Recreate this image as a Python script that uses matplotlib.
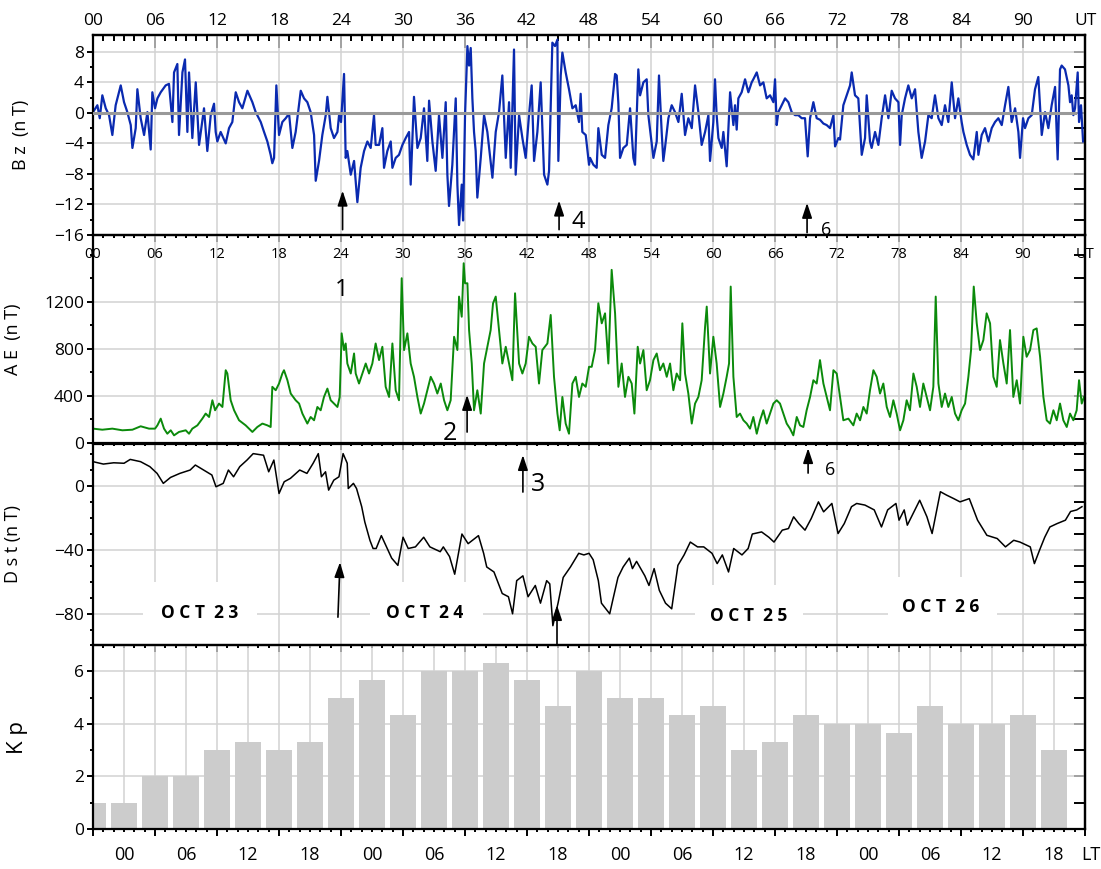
import numpy as np
import matplotlib
matplotlib.use('Agg')
import matplotlib.pyplot as plt
import matplotlib.transforms as mtransforms
from matplotlib.patches import Rectangle

plt.rcParams['font.family'] = ['Open Sans', 'DejaVu Sans']

# ---------------------------------------------------------------- data
# IMF Bz (nT), hours UT counted from 00 UT on Oct 23
bz_hours = [0.0, 0.42, 0.65, 0.9, 1.23, 1.55, 1.87, 2.19, 2.68, 3.0, 3.32, 3.65, 3.81, 4.13, 4.29, 4.61, 4.94, 5.26, 5.58, 5.74, 6.0,
            6.23, 6.55, 7.03, 7.35, 7.68, 7.84, 8.16, 8.32, 8.65, 8.9, 9.13, 9.29, 9.61, 9.94, 10.26, 10.74, 11.06, 11.39, 11.71, 11.87, 12.03,
            12.35, 12.84, 13.16, 13.48, 13.81, 14.13, 14.45, 14.94, 15.42, 15.74, 16.23, 16.55, 16.87, 17.19, 17.35, 17.52, 17.74, 18.0, 18.32,
            18.65, 18.97, 19.29, 19.61, 20.1, 20.42, 20.74, 21.06, 21.39, 21.55, 21.87, 22.19, 22.52, 22.68, 23.0, 23.32, 23.65, 23.81, 24.0,
            24.29, 24.45, 24.61, 24.94, 25.26, 25.58, 25.9, 26.23, 26.55, 26.87, 27.19, 27.35, 27.68, 28.0, 28.16, 28.48, 28.81, 28.97, 29.29, 29.61, 29.94,
            30.26, 30.58, 30.74, 31.06, 31.39, 31.71, 32.03, 32.35, 32.52, 32.84, 33.16, 33.48, 33.81, 34.13, 34.29, 34.45, 34.77, 35.1, 35.26, 35.42, 35.68, 35.81, 36.0,
            36.23, 36.39, 36.55, 36.71, 36.87, 37.03, 37.19, 37.52, 37.84, 38.16, 38.65, 38.97, 39.29, 39.61, 39.94, 40.26, 40.42, 40.74, 40.9, 41.23, 41.55, 41.87,
            42.19, 42.45, 42.68, 43.0, 43.32, 43.65, 43.97, 44.13, 44.45, 44.71, 44.94, 45.03, 45.26, 45.42, 45.74, 46.06, 46.39, 46.71, 47.03, 47.19, 47.35, 47.68, 48.0,
            48.1, 48.42, 48.74, 48.9, 49.23, 49.55, 49.87, 50.19, 50.52, 50.68, 50.84, 51.0, 51.32, 51.65, 51.97, 52.29, 52.45, 52.77, 52.94, 53.26, 53.58, 53.74, 54.0,
            54.23, 54.55, 54.77, 55.03, 55.19, 55.35, 55.68, 56.0, 56.32, 56.65, 56.97, 57.29, 57.61, 57.94, 58.26, 58.58, 58.9, 59.23, 59.55, 59.71, 60.03, 60.19,
            60.35, 60.52, 60.84, 61.0, 61.32, 61.65, 61.97, 62.13, 62.29, 62.45, 62.77, 63.1, 63.42, 63.74, 63.9, 64.23, 64.55, 64.87, 65.19, 65.52, 65.84, 66.0, 66.16,
            66.32, 66.65, 66.97, 67.29, 67.61, 67.94, 68.26, 68.58, 68.9, 69.16, 69.39, 69.71, 70.03, 70.35, 70.68, 71.0, 71.32, 71.65, 71.81, 72.13,
            72.29, 72.61, 72.94, 73.26, 73.42, 73.74, 74.06, 74.39, 74.71, 74.87, 75.19, 75.35, 75.68, 76.0, 76.32, 76.65, 76.97, 77.29, 77.61, 77.94, 78.1,
            78.26, 78.58, 78.9, 79.23, 79.55, 79.87, 80.19, 80.52, 80.84, 81.16, 81.48, 81.81, 82.13, 82.45, 82.77, 83.1, 83.42, 83.74, 84.06,
            84.23, 84.55, 84.87, 85.19, 85.52, 85.68, 86.0, 86.32, 86.65, 86.97, 87.29, 87.61, 87.94, 88.26, 88.58, 88.9, 89.23, 89.55, 89.71, 90.0,
            90.19, 90.52, 90.84, 91.16, 91.48, 91.81, 92.13, 92.45, 92.77, 93.1, 93.35, 93.58, 93.74, 94.06, 94.39, 94.55, 94.71, 94.87, 95.03, 95.29, 95.42, 95.61, 95.81]
bz_nt = [0.1, 1.0, -0.7, 2.3, 0.6, -0.3, -2.9, 1.0, 3.6, 1.4, 0.1, -1.6, -4.6, -2.0, 3.1, -0.7, -2.9, 0.1, -4.8, 2.7, 0.6,
         1.9, 2.7, 3.6, 3.8, -1.2, 5.3, 6.4, -2.9, 5.3, 7.0, -2.5, 5.3, -3.3, 4.0, -4.2, 0.6, -5.0, -0.3, 1.2, -2.5, -3.75,
         -2.5, -4.0, -2.0, -1.2, 2.7, 1.4, 0.6, 2.9, 1.4, 0.1, -1.2, -2.5, -3.75, -5.5, -6.6, -5.9, 3.6, -2.9, -1.2,
         -0.7, -0.1, -4.6, -2.5, 2.9, 1.9, 1.4, 0.1, -2.9, -8.9, -6.3, -2.9, -0.3, 2.1, -2.0, -3.3, -2.5, -0.3, -1.2,
         5.1, -5.9, -5.0, -8.1, -6.3, -11.7, -7.2, -5.0, -3.75, -4.6, -0.3, -4.2, -4.2, -2.0, -7.2, -5.0, -3.75, -7.2, -5.9, -5.5, -4.2,
         -3.3, -2.5, -9.4, 2.1, -4.6, -3.3, 0.6, -6.3, 1.6, -3.75, -7.6, -0.3, -5.9, 1.4, -8.1, -12.2, -6.8, 1.9, -9.4, -14.7, -9.4, -14.1, -0.3,
         8.75, 6.2, 8.5, 1.9, -2.5, -5.0, -11.1, -5.9, -0.3, -2.5, -8.5, -2.5, 0.1, 4.9, -5.9, 1.4, -7.2, 8.3, -8.1, -0.3, -3.3, -5.9,
         -0.3, 3.6, -6.3, -2.5, 4.0, -8.1, -9.4, -7.6, 9.2, 8.75, 9.6, -6.3, 4.9, 7.9, 5.3, 3.1, 0.6, 1.0, -1.2, 2.5, -2.5, -2.9, -6.8,
         -5.9, -6.8, -7.2, -2.0, -5.5, -5.9, -1.6, 0.6, 5.1, 4.9, 1.2, -5.9, -4.6, -4.2, 0.6, -5.9, -6.8, 5.7, 2.3, 4.0, 4.4, -0.3, -3.3,
         -5.9, -3.75, 4.9, -2.5, -6.3, -4.6, -0.7, 1.0, 0.1, -1.2, 2.5, -2.9, -0.7, -2.0, 3.6, 0.1, -4.2, -2.5, -0.3, -6.3, -1.2, 4.4,
         -0.3, -3.3, -4.6, -2.5, -7.0, 2.7, -1.6, 1.0, -2.2, 1.9, 2.7, 4.4, 2.7, 4.0, 4.4, 5.3, 3.6, 4.0, 1.9, 2.3, 1.4, 4.4, -1.6,
         0.1, 1.0, 1.9, 1.4, 0.1, -0.3, -0.3, -0.7, -0.7, -5.7, -0.7, 1.4, -0.7, -0.9, -1.4, -1.6, -2.0, -0.3, -4.4, -3.3,
         -3.5, 1.0, 2.3, 3.6, 5.3, 2.3, 1.9, -5.5, -3.3, 2.3, -3.75, -4.6, -2.5, -4.2, -0.7, 2.3, -0.7, 2.9, 1.9, 1.4, -4.2,
         -0.3, 1.9, 3.6, 1.9, 3.1, -2.5, -5.9, -3.75, -0.3, -0.7, 2.3, -0.7, -1.6, 1.0, -1.2, 4.0, -0.7, 1.9, -1.2,
         -2.5, -4.2, -5.5, -6.1, -2.5, -5.5, -2.9, -2.0, -3.75, -2.0, -1.2, -0.7, -1.6, 1.0, 3.4, -1.2, 0.6, -2.5, -5.9, -0.7,
         -2.0, -0.7, -0.3, 3.1, 4.7, -2.9, 0.1, -2.0, 1.0, 3.4, -6.1, 5.7, 6.2, 5.7, 3.6, 1.4, 2.3, -0.3, 0.6, 5.3, -1.2, 1.0, -3.75]

# AE index (nT)
ae_hours = [0.0, 0.9, 1.87, 2.84, 3.81, 4.61, 5.42, 6.0, 6.23, 6.55, 6.87, 7.19, 7.52, 7.84, 8.32, 8.97, 9.29, 9.61, 10.1, 10.58, 10.9, 11.23, 11.55, 11.81, 12.0,
            12.19, 12.52, 12.84, 13.0, 13.32, 13.65, 14.13, 14.77, 15.42, 15.9, 16.39, 16.87, 17.19, 17.35, 17.68, 18.0,
            18.32, 18.48, 18.81, 19.13, 19.61, 19.94, 20.26, 20.74, 21.06, 21.39, 21.71, 22.03, 22.35, 22.68, 23.0, 23.32, 23.65, 23.87,
            24.06, 24.29, 24.45, 24.61, 24.94, 25.26, 25.42, 25.74, 26.06, 26.39, 26.71, 27.03, 27.35, 27.68, 28.0, 28.32, 28.65, 28.97, 29.29, 29.61, 29.87,
            30.1, 30.42, 30.74, 31.06, 31.39, 31.71, 32.03, 32.35, 32.68, 33.0, 33.32, 33.65, 33.97, 34.29, 34.61, 34.94, 35.26, 35.42, 35.68, 35.87,
            36.0, 36.23, 36.39, 36.65, 36.87, 37.19, 37.52, 37.84, 38.16, 38.48, 38.71, 38.97, 39.29, 39.61, 39.94, 40.26, 40.58, 40.84, 41.23, 41.55, 41.87,
            42.19, 42.52, 42.84, 43.16, 43.48, 43.97, 44.29, 44.61, 44.94, 45.16, 45.42, 45.74, 46.06, 46.39, 46.71, 47.03, 47.35, 47.68, 48.0,
            48.26, 48.58, 48.9, 49.23, 49.55, 49.87, 50.19, 50.52, 50.68, 50.84, 51.16, 51.48, 51.81, 52.13, 52.39, 52.71, 52.94, 53.26, 53.58, 53.9,
            54.23, 54.55, 54.87, 55.19, 55.52, 55.84, 56.16, 56.48, 56.81, 57.03, 57.29, 57.61, 57.94, 58.26, 58.58, 58.9, 59.23, 59.39, 59.71, 60.03,
            60.35, 60.68, 61.0, 61.32, 61.55, 61.71, 61.97, 62.29, 62.61, 62.94, 63.26, 63.58, 63.9, 64.23, 64.55, 64.87, 65.19, 65.52, 65.84, 66.16,
            66.48, 66.81, 67.13, 67.45, 67.77, 68.1, 68.42, 68.74, 69.06, 69.39, 69.71, 70.03, 70.35, 70.68, 71.0, 71.32, 71.65, 71.97,
            72.29, 72.61, 73.1, 73.58, 73.9, 74.23, 74.55, 74.87, 75.19, 75.52, 75.84, 76.16, 76.48, 76.81, 77.13, 77.45, 77.77, 78.1,
            78.42, 78.74, 79.06, 79.39, 79.71, 80.03, 80.35, 80.68, 81.0, 81.32, 81.55, 81.81, 82.13, 82.45, 82.77, 83.1, 83.42, 83.74, 84.06,
            84.39, 84.71, 84.97, 85.23, 85.52, 85.84, 86.16, 86.48, 86.81, 87.13, 87.45, 87.77, 88.1, 88.42, 88.74, 89.06, 89.39, 89.71,
            90.03, 90.35, 90.68, 91.0, 91.32, 91.65, 91.97, 92.29, 92.61, 92.94, 93.26, 93.58, 93.9, 94.23, 94.55, 94.87, 95.19, 95.42, 95.68, 95.9]
ae_nt = [122, 113, 122, 108, 113, 142, 122, 122, 150, 207, 122, 79, 108, 65, 94, 108, 79, 122, 150, 207, 250, 221, 363, 278, 306,
         335, 306, 618, 590, 363, 278, 193, 150, 94, 136, 165, 150, 136, 477, 448, 505,
         590, 618, 533, 420, 363, 335, 250, 165, 221, 193, 306, 278, 391, 462, 363, 335, 306, 391,
         931, 789, 845, 675, 590, 760, 590, 505, 590, 675, 590, 675, 845, 704, 817, 477, 391, 845, 448, 363, 1399,
         789, 931, 675, 562, 391, 250, 335, 448, 562, 505, 420, 505, 363, 278, 363, 902, 789, 1243, 1072, 1526,
         1356, 1356, 959, 675, 278, 448, 250, 675, 817, 959, 1186, 1243, 959, 675, 817, 675, 533, 1271, 675, 590, 675,
         902, 845, 817, 505, 789, 845, 1087, 562, 250, 108, 391, 165, 79, 505, 562, 391, 505, 477, 647,
         647, 789, 1186, 1016, 1101, 675, 1470, 1101, 789, 477, 675, 391, 562, 505, 250, 817, 675, 789, 448, 533,
         704, 760, 618, 675, 562, 675, 448, 590, 533, 1016, 590, 420, 165, 335, 391, 533, 987, 1158, 590, 902,
         675, 306, 420, 562, 675, 1328, 562, 221, 250, 193, 165, 122, 221, 79, 193, 278, 165, 250, 335, 363,
         335, 250, 165, 122, 65, 221, 150, 136, 278, 391, 533, 505, 704, 505, 391, 278, 618, 590,
         391, 193, 207, 150, 250, 193, 306, 250, 448, 618, 562, 420, 505, 306, 221, 363, 250, 108,
         193, 363, 278, 590, 477, 306, 505, 391, 278, 477, 1243, 505, 306, 420, 306, 391, 250, 193, 278,
         335, 562, 789, 1328, 1016, 789, 874, 1101, 1016, 562, 477, 874, 675, 505, 959, 391, 533, 335,
         902, 732, 789, 959, 973, 732, 391, 193, 165, 278, 193, 335, 193, 136, 250, 193, 278, 533, 335, 391]

# Dst index (nT)
dst_hours = [0, 1, 2, 3, 3.6, 4.6, 5.5, 6.2, 6.8, 7.5, 8.4, 9.4, 9.9, 10.7, 11.5, 11.9, 12.6, 13.1, 13.6, 14.2, 14.9, 15.5, 16.5,
             17, 17.5, 18, 18.5, 19.1, 20, 20.7, 21.3, 21.8, 22.1, 22.5, 22.8, 23.3, 23.8, 24.2, 24.6, 24.7, 25.2, 25.5, 26, 26.3,
             26.8, 27.1, 27.4, 27.9, 28.4, 28.9, 29.5, 30, 30.5, 31.2, 32, 32.6, 33.6, 33.9, 34.5, 35, 35.7, 36.3, 37.3, 37.8, 38.1,
             38.8, 39.6, 40.2, 40.6, 41, 41.6, 42.1, 42.8, 43.3, 43.9, 44.2, 44.5, 45, 45.5, 46.2, 47, 47.5,
             48, 48.4, 48.9, 49.2, 49.5, 50, 50.3, 50.8, 51.3, 51.9, 52.2, 52.6, 53.4, 53.8, 54.3, 54.8, 55.4, 56, 56.6, 57.2, 57.8,
             58.5, 59.1, 59.9, 60.4, 60.9, 61.5, 62, 62.8, 63.4, 63.8, 64.7, 65.4, 65.9, 66.7, 67.3, 67.8, 68.3, 68.9, 69.5, 70.2,
             70.7, 71.5, 72.1, 72.7, 73.4, 73.9, 74.7, 75.6, 76.3, 76.9, 77.7, 78, 78.5, 78.8, 80, 80.7, 81.2, 82, 82.6, 83.3, 83.9,
             84.8, 85.6, 86.5, 87.5, 88.3, 89.1, 89.7, 90.7, 91.1, 91.6, 92.1, 92.6, 93.3, 94.1, 94.6, 95.2, 95.7]
dst_nt = [15, 13.5, 14.3, 14, 16.4, 15, 11.9, 7.7, 1.5, 5.2, 7.7, 9.8, 12.9, 9.8, 6.7, -0.6, 1.5, 9.8, 5.6, 11.9, 16, 20, 19,
          8.7, 16, -4.8, 2.5, 4.6, 9.8, 7.7, 14, 20, 5.6, 8.7, -2.7, 3.5, 5.6, 20, 14, -1.7, 1.5, -1.7, -13, -22.5,
          -34, -39, -39, -31, -38, -45, -49.5, -32, -39, -38, -32, -38, -41, -38, -44, -55, -30, -36, -31, -42, -50.5,
          -53.6, -67, -69, -79.6, -59, -56, -69, -62, -73, -59, -61, -87, -73, -57, -50.5, -42, -43,
          -42, -46, -59, -73, -75.5, -79.6, -71, -57, -50.5, -45, -51.5, -47, -56, -62, -51.5, -65, -73, -76.5, -49.5, -43, -35,
          -38, -38, -42, -48.4, -43, -53.6, -39, -43, -39, -30, -28.7, -32, -35, -27.6, -26.6, -19.3, -23.5, -27.6, -20.4, -10,
          -16.2, -11, -29.7, -23.5, -13, -11, -12, -15, -25.6, -15, -11, -21.4, -15, -24.5, -9, -19.3, -29.7, -3.7, -5.8, -8, -10,
          -8, -21.4, -30.8, -32.8, -38, -33.9, -35, -38, -48.4, -40, -32, -25.6, -23.5, -21.4, -16, -15, -13]

# 3-hourly Kp
kp_hours = np.arange(0, 96, 3)
kp_values = [1, 1, 2, 2, 3, 3.33, 3, 3.33, 5, 5.67, 4.33, 6, 6, 6.33, 5.67, 4.67,
             6, 5, 5, 4.33, 4.67, 3, 3.33, 4.33, 4, 4, 3.67, 4.67, 4, 4, 4.33, 3]

ut_labels = ['00', '06', '12', '18', '24', '30', '36', '42', '48', '54', '60',
             '66', '72', '78', '84', '90', 'UT']
lt_labels = ['00', '06', '12', '18'] * 4
day_labels = ['O C T  2 3', 'O C T  2 4', 'O C T  2 5', 'O C T  2 6']
day_label_pos = [(10.35, -79), (32.1, -79), (63.4, -81), (82.0, -75.5)]
day_box_span = [(4.85, 15.9, -60), (26.8, 37.7, -60), (58.3, 68.7, -62), (76.9, 87.5, -57)]

# ---------------------------------------------------------------- figure
GRID = '#d2d2d2'
fig = plt.figure(figsize=(11.01, 8.69), dpi=100)
L, W = 0.0845, 0.901
ax_bz = fig.add_axes([L, 0.7296, W, 0.2301])
ax_ae = fig.add_axes([L, 0.4902, W, 0.2394])
ax_dst = fig.add_axes([L, 0.2578, W, 0.2313])
ax_kp = fig.add_axes([L, 0.046, W, 0.2117])


def style_panel(ax, ylim, major, minor, right):
    ax.set_facecolor('none')
    ax.set_xlim(0, 96)
    ax.set_ylim(*ylim)
    ax.set_xticks(np.arange(0, 97, 6))
    ax.set_xticks(np.arange(0, 97, 1), minor=True)
    ax.set_yticks(major)
    ax.set_yticks(minor, minor=True)
    ax.tick_params(axis='x', which='both', direction='out', bottom=True, top=False,
                   labelbottom=False, width=1.4)
    ax.tick_params(axis='x', which='major', length=5)
    ax.tick_params(axis='x', which='minor', length=2.5)
    ax.tick_params(axis='y', which='both', direction='out', left=True, right=False,
                   labelsize=12.5, width=1.4, pad=2)
    ax.tick_params(axis='y', which='major', length=4.5)
    ax.tick_params(axis='y', which='minor', length=2.5)
    for s in ax.spines.values():
        s.set_linewidth(1.6)
    ax.set_axisbelow(True)
    sec = ax.secondary_yaxis('right')
    sec.set_yticks(right)
    sec.tick_params(direction='in', length=8, width=1.4, labelright=False)
    sec.spines['right'].set_linewidth(1.6)
    return sec


def arrow(ax, x0, y0, x1, y1):
    ax.annotate('', xy=(x1, y1), xytext=(x0, y0),
                arrowprops=dict(arrowstyle='-|>,head_length=0.9,head_width=0.3',
                                color='black', lw=1.2, shrinkA=0, shrinkB=0))


# Bz panel
style_panel(ax_bz, (-16, 10.2), np.arange(-16, 9, 4), np.arange(-16, 10, 2), np.arange(-16, 10, 2))
ax_bz.grid(True, which='major', color=GRID, lw=1.1)
ax_bz.plot(bz_hours, bz_nt, color='#0a2ab0', lw=1.6, zorder=2)
ax_bz.axhline(0, xmax=0.99, color='#999999', lw=2.2, zorder=3)
top = ax_bz.secondary_xaxis('top')
top.set_xticks(np.arange(0, 97, 6), labels=ut_labels)
top.set_xticks(np.arange(0, 97, 1), minor=True)
top.tick_params(which='both', direction='in', width=1.4, labelsize=12.5, pad=4)
top.tick_params(which='major', length=9)
top.tick_params(which='minor', length=4.5)
top.spines['top'].set_linewidth(1.6)
ax_bz.set_ylabel('B z  (n T)', fontsize=13)
ax_bz.yaxis.set_label_coords(-0.0635, 0.5)
arrow(ax_bz, 24.15, -15.3, 24.15, -10.2)
arrow(ax_bz, 45.1, -15.3, 45.1, -11.5)
ax_bz.text(47.0, -14.3, '4', fontsize=17, ha='center', va='center')
arrow(ax_bz, 69.1, -15.7, 69.1, -11.8)
ax_bz.text(70.9, -15.3, '6', fontsize=13, ha='center', va='center', clip_on=True)

# AE panel
style_panel(ax_ae, (0, 1766), [0, 400, 800, 1200], np.arange(0, 1767, 200), np.arange(0, 1767, 200))
ax_ae.grid(True, which='major', color=GRID, lw=1.1)
ax_ae.plot(ae_hours, ae_nt, color='#0b8a0b', lw=1.4, zorder=2)
trans_ae = mtransforms.blended_transform_factory(ax_ae.transData, ax_ae.transAxes)
for x, lab in zip(np.arange(0, 97, 6), ut_labels):
    ax_ae.text(x, 0.905, lab, transform=trans_ae, fontsize=10.5, ha='center', va='center')
ax_ae.set_ylabel('A E  (n T)', fontsize=13)
ax_ae.yaxis.set_label_coords(-0.0716, 0.5)
ax_ae.text(24.1, 1300, '1', fontsize=17, ha='center', va='center')
arrow(ax_ae, 36.2, 93, 36.2, 408)
ax_ae.text(34.5, 85, '2', fontsize=18, ha='center', va='center')

# Dst panel
style_panel(ax_dst, (-99, 26), [0, -40, -80], np.arange(-90, 21, 10), np.arange(-90, 21, 10))
ax_dst.grid(True, which='major', color=GRID, lw=1.1)
for (x0, x1, ytop) in day_box_span:
    ax_dst.add_patch(Rectangle((x0, -99), x1 - x0, ytop + 99, facecolor='white',
                               edgecolor='none', zorder=1))
for (x, y), lab in zip(day_label_pos, day_labels):
    ax_dst.text(x, y, lab, fontsize=12.5, fontweight='bold', ha='center', va='center', zorder=4)
ax_dst.plot(dst_hours, dst_nt, color='black', lw=1.1, zorder=2)
ax_dst.set_ylabel('D s t (n T)', fontsize=13)
ax_dst.yaxis.set_label_coords(-0.0716, 0.5)
arrow(ax_dst, 41.6, -3.9, 41.6, 19.1)
ax_dst.text(43.1, 1.0, '3', fontsize=18, ha='center', va='center')
arrow(ax_dst, 69.2, 7.9, 69.2, 23.4)
ax_dst.text(71.3, 9.8, '6', fontsize=13, ha='center', va='center')
arrow(ax_dst, 23.7, -81.7, 23.9, -47.5)
arrow(ax_dst, 44.9, -99, 44.9, -74.2)

# Kp panel
style_panel(ax_kp, (0, 7), [0, 2, 4, 6], np.arange(0, 8, 1), np.arange(0, 8, 1))
ax_kp.grid(True, axis='y', which='major', color=GRID, lw=1.1)
for x in np.arange(3, 96, 3):
    ax_kp.axvline(x, color=GRID, lw=1.1, zorder=0.5)
ax_kp.bar(kp_hours, kp_values, width=2.6, color='#cccccc', zorder=2)
trans_kp = mtransforms.blended_transform_factory(ax_kp.transData, ax_kp.transAxes)
for x, lab in zip(np.arange(3, 96, 6), lt_labels):
    ax_kp.text(x, -0.14, lab, transform=trans_kp, fontsize=13, ha='center', va='center')
ax_kp.text(96.6, -0.14, 'LT', transform=trans_kp, fontsize=13, ha='center', va='center')
ax_kp.set_ylabel('K p', fontsize=16)
ax_kp.yaxis.set_label_coords(-0.0655, 0.5)

fig.savefig('out.png', dpi=100)
